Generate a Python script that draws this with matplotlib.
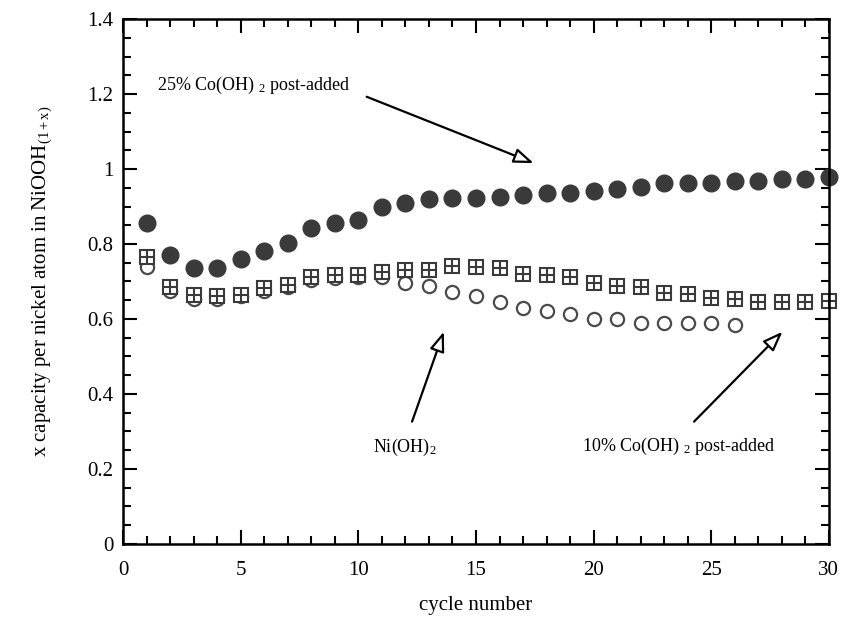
import matplotlib
matplotlib.use("Agg")
import matplotlib.pyplot as plt
from matplotlib.ticker import MultipleLocator

plt.rcParams['font.family'] = ['Liberation Serif', 'DejaVu Serif']
plt.rcParams['mathtext.fontset'] = 'custom'
plt.rcParams['mathtext.rm'] = 'Liberation Serif'
plt.rcParams['mathtext.it'] = 'Liberation Serif:italic'

# cycle numbers
cyc_25 = list(range(1, 31))
cyc_10 = list(range(1, 31))
cyc_ni = list(range(1, 27))

# 25% Co(OH)2 post-added (filled circles)
cap_25 = [0.856, 0.771, 0.737, 0.737, 0.759, 0.782, 0.803, 0.842, 0.855, 0.864,
          0.900, 0.910, 0.920, 0.923, 0.923, 0.925, 0.931, 0.935, 0.935, 0.942,
          0.946, 0.953, 0.964, 0.964, 0.964, 0.969, 0.969, 0.973, 0.973, 0.980]

# 10% Co(OH)2 post-added (boxed plus)
cap_10 = [0.766, 0.686, 0.664, 0.661, 0.664, 0.682, 0.691, 0.711, 0.717, 0.717,
          0.726, 0.730, 0.730, 0.741, 0.740, 0.735, 0.720, 0.718, 0.711, 0.697,
          0.688, 0.684, 0.670, 0.667, 0.655, 0.653, 0.646, 0.644, 0.646, 0.649]

# Ni(OH)2 (open circles)
cap_ni = [0.740, 0.675, 0.652, 0.652, 0.660, 0.675, 0.685, 0.705, 0.710, 0.712,
          0.712, 0.695, 0.688, 0.673, 0.660, 0.644, 0.628, 0.622, 0.613, 0.599,
          0.599, 0.590, 0.590, 0.590, 0.590, 0.584]

fig = plt.figure(figsize=(8.44, 6.18), dpi=100)
ax = fig.add_axes([0.146, 0.120, 0.836, 0.849])

dark = '#3a3a3a'
ax.plot(cyc_ni, cap_ni, 'o', ms=9.5, mfc='white', mec='#4a4a4a', mew=1.6, ls='none', clip_on=False)
ax.plot(cyc_10, cap_10, 's', ms=10, mfc='white', mec=dark, mew=1.5, ls='none', clip_on=False)
ax.plot(cyc_10, cap_10, '+', ms=10, mec=dark, mew=1.5, ls='none', clip_on=False)
ax.plot(cyc_25, cap_25, 'o', ms=12, mfc=dark, mec=dark, ls='none', clip_on=False)

ax.set_xlim(0, 30)
ax.set_ylim(0, 1.4)
ax.xaxis.set_major_locator(MultipleLocator(5))
ax.xaxis.set_minor_locator(MultipleLocator(1))
ax.yaxis.set_major_locator(MultipleLocator(0.2))
ax.yaxis.set_minor_locator(MultipleLocator(0.05))
ax.set_yticks([0, 0.2, 0.4, 0.6, 0.8, 1.0, 1.2, 1.4])
ax.set_yticklabels(['0', '0.2', '0.4', '0.6', '0.8', '1', '1.2', '1.4'])

ax.tick_params(which='both', direction='in', top=True, right=True, width=1.5,
               labelsize=15, colors='black')
ax.tick_params(which='major', length=10)
ax.tick_params(which='minor', length=5.5)
ax.tick_params(axis='x', which='major', pad=12)
ax.tick_params(axis='y', which='major', pad=7)
for s in ax.spines.values():
    s.set_linewidth(1.8)

ax.set_xlabel('cycle number', fontsize=15, labelpad=12)
ax.set_ylabel(r'x capacity per nickel atom in NiOOH$_{\mathrm{(1+x)}}$', fontsize=15, labelpad=24)

arrow = dict(arrowstyle='-|>,head_length=1.2,head_width=0.45', fc='white', ec='black', lw=1.6,
             shrinkA=0, shrinkB=0)
ax.text(1.45, 1.224, r'25% Co(OH) $_2$ post-added', fontsize=13, va='center', ha='left')
ax.annotate('', xy=(17.45, 1.016), xytext=(10.35, 1.193), arrowprops=arrow)

ax.text(10.64, 0.256, r'Ni(OH)$_2$', fontsize=13, va='center', ha='left')
ax.annotate('', xy=(13.63, 0.566), xytext=(12.28, 0.326), arrowprops=arrow)

ax.text(19.52, 0.26, r'10% Co(OH) $_2$ post-added', fontsize=13, va='center', ha='left')
ax.annotate('', xy=(28.03, 0.566), xytext=(24.27, 0.326), arrowprops=arrow)

fig.savefig('out.png', dpi=100)
